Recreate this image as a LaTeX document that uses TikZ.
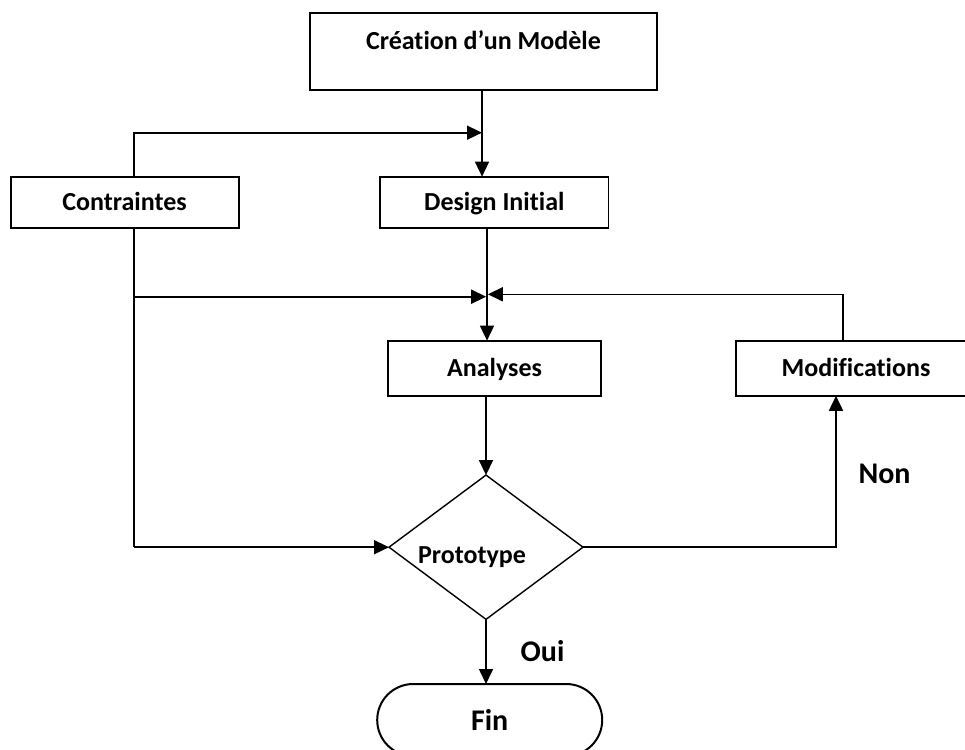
\documentclass[tikz,border=0pt]{standalone}
\usepackage{fontspec}
\setmainfont{Carlito}[Ligatures=NoCommon]
\usetikzlibrary{arrows.meta,shapes.geometric,shapes.misc}
\begin{document}
\begin{tikzpicture}[x=1pt,y=-1pt,
  box/.style={draw, line width=1.8pt, inner sep=0pt, outer sep=0pt,
    font=\fontsize{26}{30}\bfseries\selectfont, text height=20pt, text depth=4pt},
  conn/.style={line width=1.6pt},
  arr/.style={conn, -{Triangle[length=15pt,width=14pt]}},
  lbl/.style={font=\fontsize{30}{34}\bfseries\selectfont, inner sep=0pt}]
\useasboundingbox (0,0) rectangle (965,749);

% nodes
\node[box, minimum width=347pt, minimum height=77pt, text height=19pt, text depth=23pt]
  (crea) at (483.5,51.2) {Création d’un Modèle};
\node[box, minimum width=228pt, minimum height=51.3pt] (contr) at (124.6,202.3) {Contraintes};
\node[box, minimum width=228.5pt, minimum height=51.3pt] (design) at (494.3,202.3) {Design Initial};
\node[box, minimum width=213pt, minimum height=55.3pt] (analyses) at (494.5,368.3) {Analyses};
\node[box, minimum width=240pt, minimum height=55pt] (modif) at (856,368.3) {Modifications};
\node[diamond, draw, line width=1.4pt, inner sep=0pt, outer sep=0pt,
  minimum width=194pt, minimum height=144.3pt,
  font=\fontsize{26}{30}\bfseries\selectfont, text height=36pt, text depth=3pt]
  (proto) at (486,547.2) {\hspace*{-28pt}Prototype};
\node[rounded rectangle, draw, line width=2pt, inner sep=0pt, outer sep=0pt,
  minimum width=225pt, minimum height=72pt,
  font=\fontsize{30}{34}\bfseries\selectfont, text height=20pt, text depth=0pt]
  (fin) at (489.7,720) {Fin};

% helper coordinates
\coordinate (cx) at (134,0);
\coordinate (j1) at (482,132.7);
\coordinate (dx) at (487,0);
\coordinate (j2) at (486.2,296.7);
\coordinate (j3) at (487.8,294.3);
\coordinate (mx) at (843,0);
\coordinate (nx) at (836,0);

% connectors
\draw[arr] (crea.south -| j1) -- (design.north -| j1);
\draw[arr] (contr.north -| cx) |- (j1);
\draw[arr] (design.south -| dx) -- (analyses.north -| dx);
\draw[conn] (contr.south -| cx) -- (cx |- proto.west);
\draw[arr] (cx |- proto.west) -- (proto.west);
\draw[arr] (cx |- j2) -- (j2);
\draw[arr] (modif.north -| mx) |- (j3);
\draw[arr] (analyses.south -| proto.north) -- (proto.north);
\draw[arr] (proto.east) -| (modif.south -| nx);
\draw[arr] (proto.south) -- (proto.south |- fin.north);

% labels
\node[lbl] (non) at (884.5,474) {Non};
\node[lbl] (oui) at (542.5,651) {Oui};
\end{tikzpicture}
\end{document}
